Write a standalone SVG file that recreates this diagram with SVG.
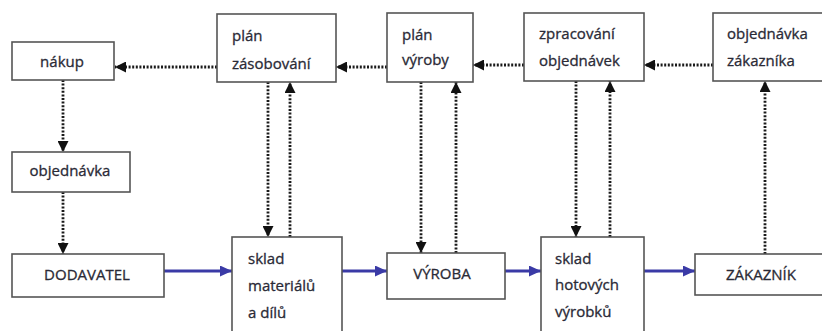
<svg xmlns="http://www.w3.org/2000/svg" width="822" height="331" viewBox="0 0 822 331">
<defs>
<style>
.box{fill:#fff;stroke:#555;stroke-width:1.6}
.t{font-family:"Open Sans","Liberation Sans",sans-serif;font-size:15px;fill:#2a2a36;stroke:#2a2a36;stroke-width:0.3}
.dot{fill:none;stroke:#1a1a1a;stroke-width:2.8;stroke-dasharray:2 1.6}
.blue{fill:none;stroke:#3a3aa6;stroke-width:3}
</style>
<marker id="ah" markerUnits="userSpaceOnUse" markerWidth="11" markerHeight="11" refX="11" refY="5.5" orient="auto">
<path d="M0,0 L11,5.5 L0,11 z" fill="#111"/>
</marker>
<marker id="bh" markerUnits="userSpaceOnUse" markerWidth="12" markerHeight="11" refX="12" refY="5.5" orient="auto">
<path d="M0,0 L12,5.5 L0,11 z" fill="#3a3aa6"/>
</marker>
</defs>
<rect width="822" height="331" fill="#fff"/>

<g id="connectors">
<line class="dot" x1="217" y1="67" x2="115" y2="67" marker-end="url(#ah)"/>
<line class="dot" x1="387" y1="67" x2="336" y2="67" marker-end="url(#ah)"/>
<line class="dot" x1="524" y1="65" x2="473" y2="65" marker-end="url(#ah)"/>
<line class="dot" x1="713" y1="65" x2="644" y2="65" marker-end="url(#ah)"/>
<line class="dot" x1="63" y1="80" x2="63" y2="152" marker-end="url(#ah)"/>
<line class="dot" x1="63" y1="192" x2="63" y2="254" marker-end="url(#ah)"/>
<line class="dot" x1="268" y1="82" x2="268" y2="237" marker-end="url(#ah)"/>
<line class="dot" x1="290" y1="237" x2="290" y2="82" marker-end="url(#ah)"/>
<line class="dot" x1="421" y1="82" x2="421" y2="253" marker-end="url(#ah)"/>
<line class="dot" x1="456" y1="253" x2="456" y2="82" marker-end="url(#ah)"/>
<line class="dot" x1="576" y1="81" x2="576" y2="237" marker-end="url(#ah)"/>
<line class="dot" x1="610" y1="237" x2="610" y2="81" marker-end="url(#ah)"/>
<line class="dot" x1="765" y1="254" x2="765" y2="81" marker-end="url(#ah)"/>
<line class="blue" x1="164" y1="271" x2="232" y2="271" marker-end="url(#bh)"/>
<line class="blue" x1="342" y1="271" x2="387" y2="271" marker-end="url(#bh)"/>
<line class="blue" x1="505" y1="271" x2="541" y2="271" marker-end="url(#bh)"/>
<line class="blue" x1="644" y1="271" x2="695" y2="271" marker-end="url(#bh)"/>
</g>

<g id="nakup">
<rect class="box" x="12" y="42" width="102" height="38"/>
<text class="t" x="62" y="67" text-anchor="middle">nákup</text>
</g>
<g id="plan-zasobovani">
<rect class="box" x="217" y="14" width="119" height="68"/>
<text class="t" x="232" y="41">plán</text>
<text class="t" x="232" y="69">zásobování</text>
</g>
<g id="plan-vyroby">
<rect class="box" x="387" y="13" width="86" height="69"/>
<text class="t" x="402" y="40">plán</text>
<text class="t" x="402" y="65">výroby</text>
</g>
<g id="zpracovani-objednavek">
<rect class="box" x="524" y="13" width="120" height="68"/>
<text class="t" x="539" y="39">zpracování</text>
<text class="t" x="539" y="66">objednávek</text>
</g>
<g id="objednavka-zakaznika">
<rect class="box" x="713" y="13" width="120" height="68"/>
<text class="t" x="727" y="39">objednávka</text>
<text class="t" x="727" y="66">zákazníka</text>
</g>
<g id="objednavka">
<rect class="box" x="12" y="152" width="118" height="40"/>
<text class="t" x="70" y="176" text-anchor="middle">objednávka</text>
</g>
<g id="dodavatel">
<rect class="box" x="12" y="254" width="152" height="43"/>
<text class="t" x="87" y="280" text-anchor="middle">DODAVATEL</text>
</g>
<g id="sklad-materialu">
<rect class="box" x="232" y="237" width="110" height="110"/>
<text class="t" x="248" y="264">sklad</text>
<text class="t" x="248" y="291">materiálů</text>
<text class="t" x="248" y="318">a dílů</text>
</g>
<g id="vyroba">
<rect class="box" x="387" y="253" width="118" height="46"/>
<text class="t" x="442" y="279" text-anchor="middle">VÝROBA</text>
</g>
<g id="sklad-hotovych">
<rect class="box" x="541" y="237" width="103" height="110"/>
<text class="t" x="555" y="264">sklad</text>
<text class="t" x="555" y="290">hotových</text>
<text class="t" x="555" y="317">výrobků</text>
</g>
<g id="zakaznik">
<rect class="box" x="695" y="254" width="140" height="41"/>
<text class="t" x="761" y="280" text-anchor="middle">ZÁKAZNÍK</text>
</g>
</svg>
